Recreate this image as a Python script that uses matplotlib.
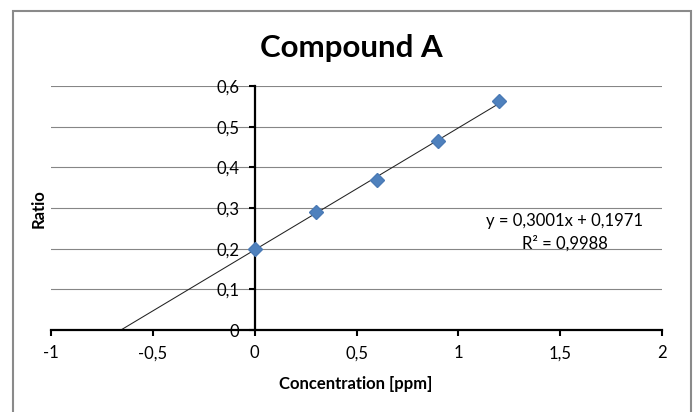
import numpy as np
import matplotlib
matplotlib.use("Agg")
import matplotlib.pyplot as plt
from matplotlib.patches import Rectangle

# calibration data
conc = [0.0, 0.3, 0.6, 0.9, 1.2]
ratio = [0.2, 0.29, 0.37, 0.465, 0.563]

# trendline as reported in the chart
slope = 0.3001
intercept = 0.1971
r_squared = 0.9988

x_ticks = [-1, -0.5, 0, 0.5, 1, 1.5, 2]
x_tick_labels = ["-1", "-0,5", "0", "0,5", "1", "1,5", "2"]
y_ticks = [0, 0.1, 0.2, 0.3, 0.4, 0.5, 0.6]
y_tick_labels = ["0", "0,1", "0,2", "0,3", "0,4", "0,5", "0,6"]

plt.rcParams["font.family"] = ["Lato", "DejaVu Sans"]

fig = plt.figure(figsize=(6.94, 4.12), dpi=100)
ax = fig.add_axes([0.0735, 0.199, 0.8804, 0.592])

# gray chart border (runs off the bottom edge)
fig.add_artist(Rectangle((0.0187, -0.05), 0.977, 1.023, transform=fig.transFigure,
                         fill=False, ec="#8a8a8a", lw=1.5))

ax.set_xlim(-1, 2)
ax.set_ylim(0, 0.6)

ax.yaxis.grid(True, color="#868686", lw=0.8, zorder=0)
ax.set_axisbelow(True)

# trendline, extended back to the x axis
x0 = -intercept / slope
xs = np.array([x0, max(conc)])
ax.plot(xs, slope * xs + intercept, color="#222222", lw=0.75, zorder=2)

ax.plot(conc, ratio, linestyle="none", marker="D", ms=7,
        color="#4f81bd", mec="#4a7ab5", zorder=3)

for s in ["top", "right"]:
    ax.spines[s].set_visible(False)
ax.spines["left"].set_position(("data", 0))
ax.spines["left"].set_linewidth(1.6)
ax.spines["bottom"].set_linewidth(1.6)

ax.set_xticks(x_ticks)
ax.set_xticklabels(x_tick_labels)
ax.set_yticks(y_ticks)
ax.set_yticklabels(y_tick_labels)
ax.tick_params(axis="both", direction="out", length=4, width=1.5,
               labelsize=12, pad=7, colors="black")

ax.set_xlabel("Concentration [ppm]", fontsize=12, fontweight="bold")
ax.xaxis.set_label_coords(0.499, -0.221)
ax.xaxis.label.set_va("center")
ax.set_ylabel("Ratio", fontsize=12, fontweight="bold")
ax.yaxis.set_label_coords(-0.021, 0.496)
ax.yaxis.label.set_va("center")

fig.text(0.507, 0.8835, "Compound A", fontsize=22.5, fontweight="bold",
         ha="center", va="center")

eq = "y = {:.4f}x + {:.4f}".format(slope, intercept).replace(".", ",")
r2 = "R² = {:.4f}".format(r_squared).replace(".", ",")
ax.text(0.841, 0.447, eq, transform=ax.transAxes, fontsize=12,
        ha="center", va="center")
ax.text(0.841, 0.357, r2, transform=ax.transAxes, fontsize=12,
        ha="center", va="center")

fig.savefig("out.png", dpi=100)
